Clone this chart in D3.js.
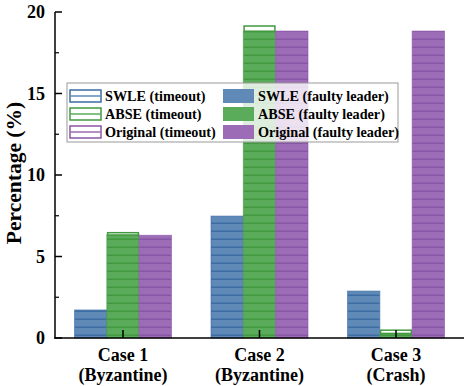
<!DOCTYPE html>
<html>
<head>
<meta charset="utf-8">
<script src="https://cdnjs.cloudflare.com/ajax/libs/d3/7.8.5/d3.min.js"></script>
<style>
  body { margin: 0; background: #fff; }
</style>
</head>
<body>
<div class="canva"></div>
<script>
const cases = ['Case 1|(Byzantine)', 'Case 2|(Byzantine)', 'Case 3|(Crash)'];
const methods = ['SWLE', 'ABSE', 'Original'];
// faulty leader part (bottom) and timeout part (stacked on top), in %
const faultyLeader = {
  SWLE: [1.72, 7.48, 2.88],
  ABSE: [6.32, 18.8, 0.28],
  Original: [6.3, 18.83, 18.83]
};
const timeout = {
  SWLE: [0, 0, 0],
  ABSE: [0.14, 0.34, 0.2],
  Original: [0, 0, 0]
};
const yTicks = [0, 5, 10, 15, 20];
const yMinor = [2.5, 7.5, 12.5, 17.5];

const colors = { SWLE: '#5f8ab8', ABSE: '#5aac5a', Original: '#9c6cb6' };
const lineColors = { SWLE: '#3d6da3', ABSE: '#42993f', Original: '#8955a6' };

const W = 464, H = 386;
const svg = d3.select('.canva').append('svg')
  .attr('width', W)
  .attr('height', H)
  .style('font-family', '"Liberation Serif", "Times New Roman", serif')
  .attr('font-weight', 'bold');

const defs = svg.append('defs');
methods.forEach(m => {
  const p = defs.append('pattern')
    .attr('id', 'fl-' + m)
    .attr('patternUnits', 'userSpaceOnUse')
    .attr('width', 8).attr('height', 8);
  p.append('rect').attr('width', 8).attr('height', 8).attr('fill', colors[m]);
  p.append('rect').attr('y', 6.5).attr('width', 8).attr('height', 1.5).attr('fill', lineColors[m]);

  const q = defs.append('pattern')
    .attr('id', 'to-' + m)
    .attr('patternUnits', 'userSpaceOnUse')
    .attr('width', 8).attr('height', 8);
  q.append('rect').attr('width', 8).attr('height', 8).attr('fill', '#fff');
  q.append('rect').attr('y', 6.5).attr('width', 8).attr('height', 1.5).attr('fill', colors[m]);
});

const y = d3.scaleLinear().domain([0, 20]).range([338, 12]);
const x = d3.scalePoint().domain(cases).range([123, 396]);
const xm = d3.scaleBand().domain(methods).range([-48.5, 48.5]);

// bars
methods.forEach(m => {
  const g = svg.append('g');
  g.selectAll('rect.fl')
    .data(cases)
    .join('rect')
    .attr('class', 'fl')
    .attr('x', d => x(d) + xm(m))
    .attr('width', xm.bandwidth())
    .attr('y', (d, i) => y(faultyLeader[m][i]))
    .attr('height', (d, i) => y(0) - y(faultyLeader[m][i]))
    .attr('fill', 'url(#fl-' + m + ')')
    .attr('stroke', lineColors[m])
    .attr('stroke-width', 1)
    .attr('stroke-opacity', 0.6);
  g.selectAll('rect.to')
    .data(cases.filter((d, i) => timeout[m][i] > 0))
    .join('rect')
    .attr('class', 'to')
    .attr('x', d => x(d) + xm(m) + 0.75)
    .attr('width', xm.bandwidth() - 1.5)
    .attr('y', d => { const i = cases.indexOf(d); return y(faultyLeader[m][i] + timeout[m][i]); })
    .attr('height', d => { const i = cases.indexOf(d); return y(faultyLeader[m][i]) - y(faultyLeader[m][i] + timeout[m][i]); })
    .attr('fill', 'url(#to-' + m + ')')
    .attr('stroke', lineColors[m])
    .attr('stroke-width', 1.5);
});

// axes
const axisY = svg.append('g').attr('transform', 'translate(55,0)');
axisY.append('line').attr('y1', y(20)).attr('y2', y(0)).attr('stroke', '#000').attr('stroke-width', 1.5);
axisY.selectAll('line.major').data(yTicks).join('line')
  .attr('class', 'major')
  .attr('x1', 0).attr('x2', 7)
  .attr('y1', d => y(d)).attr('y2', d => y(d))
  .attr('stroke', '#000').attr('stroke-width', 1.5);
axisY.selectAll('line.minor').data(yMinor).join('line')
  .attr('class', 'minor')
  .attr('x1', 0).attr('x2', 4)
  .attr('y1', d => y(d)).attr('y2', d => y(d))
  .attr('stroke', '#000').attr('stroke-width', 1.2);
axisY.selectAll('text').data(yTicks).join('text')
  .attr('x', -10)
  .attr('y', d => y(d) + 6)
  .attr('text-anchor', 'end')
  .attr('font-size', 18)
  .text(d => d);

svg.append('line')
  .attr('x1', 54).attr('x2', 464)
  .attr('y1', y(0)).attr('y2', y(0))
  .attr('stroke', '#000').attr('stroke-width', 1.5);
svg.selectAll('line.xt').data(cases).join('line')
  .attr('class', 'xt')
  .attr('x1', d => x(d)).attr('x2', d => x(d))
  .attr('y1', y(0)).attr('y2', y(0) - 8)
  .attr('stroke', '#000').attr('stroke-width', 1.5);
const xl = svg.selectAll('text.xl').data(cases).join('text')
  .attr('class', 'xl')
  .attr('text-anchor', 'middle')
  .attr('font-size', 18);
xl.append('tspan').attr('x', d => x(d)).attr('y', 361).text(d => d.split('|')[0]);
xl.append('tspan').attr('x', d => x(d)).attr('y', 381).text(d => d.split('|')[1]);

svg.append('text')
  .attr('transform', 'translate(21,' + (y(10) - 2) + ') rotate(-90)')
  .attr('text-anchor', 'middle')
  .attr('font-size', 21.5)
  .text('Percentage (%)');

// legend
const lg = svg.append('g');
lg.append('rect')
  .attr('x', 67).attr('y', 83)
  .attr('width', 331).attr('height', 59)
  .attr('fill', '#fff').attr('fill-opacity', 0.8)
  .attr('stroke', '#999').attr('stroke-width', 1);
methods.forEach((m, i) => {
  const cy = 96 + i * 18;
  lg.append('rect')
    .attr('x', 70).attr('y', cy - 6).attr('width', 31).attr('height', 12)
    .attr('fill', '#fff').attr('stroke', lineColors[m]).attr('stroke-width', 1.5);
  lg.append('line')
    .attr('x1', 70).attr('x2', 101).attr('y1', cy).attr('y2', cy)
    .attr('stroke', colors[m]).attr('stroke-width', 1.5);
  lg.append('text')
    .attr('x', 105).attr('y', cy + 5)
    .attr('font-size', 14.2)
    .text(m + ' (timeout)');
  lg.append('rect')
    .attr('x', 223).attr('y', cy - 7).attr('width', 31).attr('height', 14)
    .attr('fill', colors[m]);
  lg.append('text')
    .attr('x', 258).attr('y', cy + 5)
    .attr('font-size', 14.2)
    .text(m + ' (faulty leader)');
});
</script>
</body>
</html>
